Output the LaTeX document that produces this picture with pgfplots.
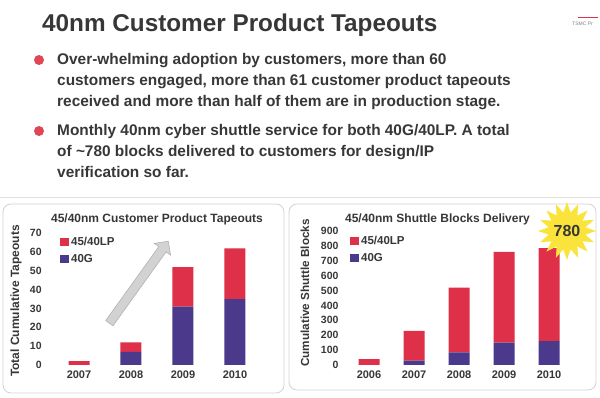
\documentclass[border=0pt]{standalone}
\usepackage{fontspec}
\setmainfont{Liberation Sans}
\usepackage{pgfplots}
\pgfplotsset{compat=1.18}
\usetikzlibrary{shapes.geometric,shapes.arrows}
\definecolor{lp}{RGB}{222,48,72}
\definecolor{gg}{RGB}{75,58,140}
\definecolor{txt}{RGB}{55,55,55}
\definecolor{bul}{RGB}{225,70,85}
\definecolor{starY}{RGB}{250,228,60}
\newcommand{\fs}[1]{\bfseries\fontsize{#1}{#1}\selectfont}
\begin{document}
\begin{tikzpicture}[x=1pt,y=1pt]
\useasboundingbox (0,0) rectangle (600,398);
\fill[white] (0,0) rectangle (600,398);
% header
\node[anchor=base west, inner sep=0, font=\fs{24.3}, text=txt] at (42,366) {40nm Customer Product Tapeouts};
\draw[lp, line width=1pt] (578,380) -- (598,380);
\node[anchor=west, inner sep=0, font=\fontsize{5}{5}\selectfont, text=gray] at (572,374) {TSMC Pr};
% bullets
\fill[bul] (39,338) circle (5);
\fill[bul] (39,267) circle (5);
\begin{scope}[every node/.style={anchor=base west, inner sep=0, font=\fs{15.4}, text=txt}]
\node at (57,333) {Over-whelming adoption by customers, more than 60};
\node at (57,312) {customers engaged, more than 61 customer product tapeouts};
\node at (57,291) {received and more than half of them are in production stage.};
\node at (57,262) {Monthly 40nm cyber shuttle service for both 40G/40LP. A total};
\node at (57,241) {of \textasciitilde780 blocks delivered to customers for design/IP};
\node at (57,220) {verification so far.};
\end{scope}
\draw[gray!25, line width=1pt] (0,200) -- (600,200);
% panels
\draw[rounded corners=8pt, draw=gray!35, line width=0.8pt] (3,5) rectangle (284,194);
\draw[rounded corners=8pt, draw=gray!35, line width=0.8pt] (289,8) rectangle (596,194);
% panel titles and y labels
\node[anchor=base, inner sep=0, font=\fs{12}, text=txt] at (157,175) {45/40nm Customer Product Tapeouts};
\node[anchor=base, inner sep=0, font=\fs{12}, text=txt] at (437.5,175) {45/40nm Shuttle Blocks Delivery};
\node[rotate=90, inner sep=0, font=\fs{12}, text=txt] at (16,97) {Total Cumulative Tapeouts};
\node[rotate=90, inner sep=0, font=\fs{11.7}, text=txt] at (305,105) {Cumulative Shuttle Blocks};
% arrow
\node[single arrow, rotate=54.3, fill=gray!35, draw=gray!60, line width=0.6pt, minimum height=101pt, single arrow head extend=5.5pt, inner xsep=0pt, inner ysep=4.2pt] at (137.5,114) {};
% left chart
\begin{axis}[
  at={(45.2pt,33pt)}, anchor=south west,
  scale only axis, width=223.6pt, height=131.7pt,
  xmin=-0.65, xmax=3.65, ymin=0, ymax=70,
  ybar stacked, bar width=21pt,
  axis line style={draw=none}, major tick length=0pt,
  xtick={0,1,2,3}, xticklabels={2007,2008,2009,2010},
  ytick={0,10,...,70},
  yticklabel style={font=\fs{10.5}, text=txt},
  xticklabel style={font=\fs{11}, text=txt, yshift=-2pt},
  /pgf/number format/assume math mode=true,
  clip=false,
  reverse legend,
  legend style={at={(0.066,0.985)}, anchor=north west, draw=none, fill=none, font=\fs{11.5}, text=txt, row sep=3pt, inner sep=0pt},
  legend cell align=left,
]
\addplot[fill=gg, draw=none, legend image code/.code={\fill[gg] (0pt,-3.5pt) rectangle (9pt,4.5pt);}] coordinates {(0,0) (1,7) (2,31) (3,35)};
\addplot[fill=lp, draw=none, legend image code/.code={\fill[lp] (0pt,-3.5pt) rectangle (9pt,4.5pt);}] coordinates {(0,2) (1,5) (2,21) (3,27)};
\legend{40G,45/40LP}
\end{axis}
% right chart
\begin{axis}[
  at={(342pt,33pt)}, anchor=south west,
  scale only axis, width=234pt, height=134pt,
  xmin=-0.6, xmax=4.6, ymin=0, ymax=900,
  ybar stacked, bar width=21pt,
  axis line style={draw=none}, major tick length=0pt,
  xtick={0,1,2,3,4}, xticklabels={2006,2007,2008,2009,2010},
  ytick={0,100,...,900},
  yticklabel style={font=\fs{10.5}, text=txt},
  xticklabel style={font=\fs{11}, text=txt, yshift=-2pt},
  /pgf/number format/assume math mode=true,
  clip=false,
  reverse legend,
  legend style={at={(0.034,0.975)}, anchor=north west, draw=none, fill=none, font=\fs{11.5}, text=txt, row sep=3pt, inner sep=0pt},
  legend cell align=left,
]
\addplot[fill=gg, draw=none, legend image code/.code={\fill[gg] (0pt,-3.5pt) rectangle (9pt,4.5pt);}] coordinates {(0,0) (1,30) (2,85) (3,150) (4,160)};
\addplot[fill=lp, draw=none, legend image code/.code={\fill[lp] (0pt,-3.5pt) rectangle (9pt,4.5pt);}] coordinates {(0,40) (1,200) (2,435) (3,610) (4,625)};
\legend{40G,45/40LP}
\end{axis}
% star
\node[star, star points=16, star point ratio=1.55, fill=starY, draw=none, minimum size=58pt, inner sep=0] at (567,167) {};
\node[font=\fs{16}, text=txt, inner sep=0] at (567,167) {780};
\end{tikzpicture}
\end{document}
